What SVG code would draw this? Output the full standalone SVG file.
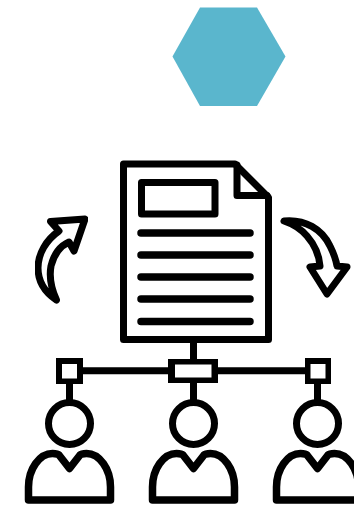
<svg xmlns="http://www.w3.org/2000/svg" width="354" height="505" viewBox="0 0 354 505">
<style>
.i{fill:none;stroke:#050505;stroke-width:7;stroke-linejoin:round;stroke-linecap:round}
.l{stroke-width:7.5}
.b{stroke-width:7.5}
.h{stroke-width:8}
.s{filter:url(#soft)}
</style>
<defs>
<filter id="soft" x="-5%" y="-5%" width="110%" height="110%"><feGaussianBlur stdDeviation="0.6"/></filter>
<g id="person">
<circle cx="0" cy="423.5" r="21" class="i"/>
<path class="i b" d="M-41 500V487C-41 469-30 453.500-17 453.500C-14 453.500-12 453.500-10.500 455L0 468.500L10.500 455C12 453.500 14 453.500 17 453.500C30 453.500 41 469 41 487V500Z"/>
</g>
</defs>
<rect width="354" height="505" fill="#fff"/>
<g id="hexagon" class="s"><polygon points="200,7.500 257,7.500 285.500,56.500 257,106 200,106 172.500,56.500" fill="#5ab6cd"/></g>
<g id="document" class="s">
<path class="i" d="M123.500 164H235L268.500 197.500V339.500H123.500Z"/>
<path class="i" d="M237 165V195.500H267"/>
<rect class="i" x="141.500" y="182.500" width="73.500" height="31.500"/>
<path class="i l" d="M141 233H250M141 255H250M141 277H250M141 299H250M141 321.500H250"/>
</g>
<g id="arrow-left" class="s"><path class="i" d="M85 219L50.500 221.500L59 231C46 240 38 254 38 268C38 282 46 293 56.500 300C51 288 49 277 51 266C54 254 60 246 69 242L74 251Z"/></g>
<g id="arrow-right" class="s"><path class="i" d="M284 221C305 219 322 229 330 246C334 254 336 260 337 266L347 267L327 294L310 267L320 266C319 254 314 244 307 236C301 229 293 224 284 221Z"/></g>
<g id="connectors" class="s">
<path class="i" style="stroke-linecap:butt" d="M193.500 341V360M80 370.700H171M215 370.700H307M69.500 383V404M193.500 382V404M317.500 383V404"/>
</g>
<g id="hub-left" class="s"><rect class="i h" x="58" y="360" width="23" height="22.500"/></g>
<g id="hub-center" class="s"><rect class="i h" x="171" y="360.500" width="44.500" height="21"/></g>
<g id="hub-right" class="s"><rect class="i h" x="306.500" y="360" width="23" height="22.500"/></g>
<g id="person-left" class="s"><use href="#person" x="69.500"/></g>
<g id="person-center" class="s"><use href="#person" x="193.500"/></g>
<g id="person-right" class="s"><use href="#person" x="317.500"/></g>
</svg>
